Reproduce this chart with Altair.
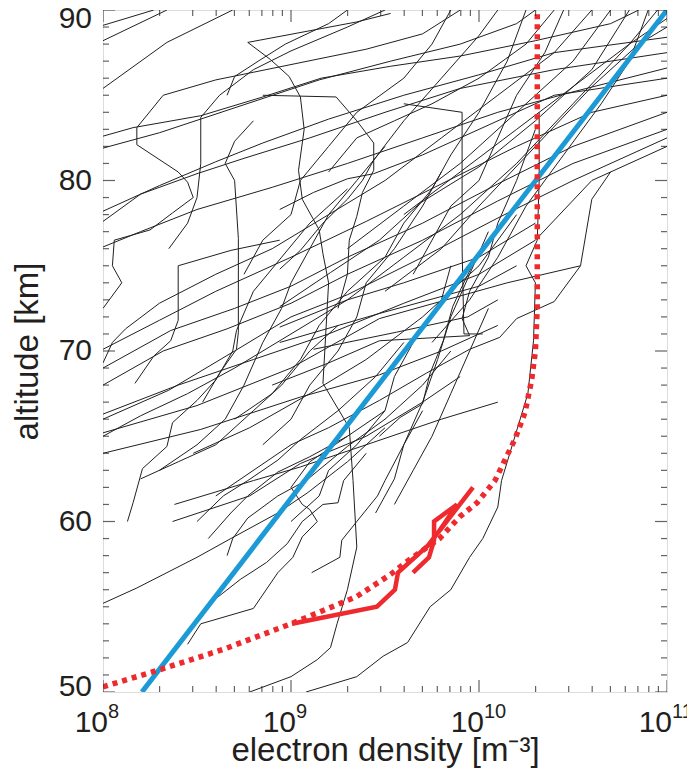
import altair as alt
import pandas as pd

# ---------------- data (log10 electron density [m^-3], altitude [km]) ----------------
p01 = [(8.0, 89.1), (8.27, 90.0)]
p02 = [(8.0, 88.2), (8.34, 90.0)]
p03 = [(8.0, 85.4), (8.34, 88.1), (8.69, 90.0)]
p04 = [(8.0, 82.6), (8.16, 83.1), (8.52, 83.8), (8.85, 84.9), (9.16, 86.0), (9.53, 86.7), (9.9, 87.3), (10.3, 88.2), (10.7, 89.2), (10.85, 90.0)]
p05 = [(8.0, 81.9), (8.3, 82.8), (8.82, 84.7), (9.15, 85.9), (9.53, 87.0), (9.9, 88.0), (10.2, 89.2), (10.3, 90.0)]
p06 = [(8.0, 72.5), (8.1, 74.0), (8.05, 75.0), (8.06, 76.5), (8.25, 77.1), (8.37, 78.1), (8.48, 79.0), (8.45, 79.9), (8.4, 80.5), (8.18, 82.1), (8.18, 83.1), (8.32, 85.0), (8.6, 85.9), (9.0, 86.8), (9.4, 87.7), (9.7, 88.6), (9.9, 90.0)]
p07 = [(9.53, 89.8), (9.35, 89.3), (8.77, 88.1), (8.89, 87.1), (8.99, 86.1), (9.05, 84.9), (9.07, 83.0), (9.04, 80.6), (9.06, 78.9), (9.15, 77.1), (9.17, 75.7), (9.2, 74.0), (9.17, 68.1), (9.31, 65.5), (9.33, 62.4), (9.35, 58.5), (9.30, 56.0), (9.245, 54.0), (9.21, 52.6), (9.14, 51.9), (9.0, 50.9), (8.78, 50.0)]
p08 = [(8.85, 85.0), (9.24, 84.9), (9.35, 83.5), (9.44, 82.2), (9.44, 80.6), (9.38, 79.3), (9.35, 77.9), (9.31, 76.5), (9.3, 74.5), (9.25, 72.5)]
p09 = [(8.0, 78.2), (8.3, 79.7), (8.6, 81.1), (8.85, 82.2), (9.2, 83.6), (9.6, 85.0), (10.0, 86.2), (10.4, 87.5), (11.0, 88.4)]
p10 = [(8.0, 77.6), (8.2, 79.2), (8.5, 80.4), (8.75, 81.3), (9.1, 82.5), (9.5, 84.0), (9.9, 85.4), (10.4, 86.5), (11.0, 87.5)]
p11 = [(8.0, 76.1), (8.2, 77.0), (8.5, 78.3), (8.9, 79.6), (9.3, 81.0), (9.7, 82.5), (10.1, 84.0), (10.5, 85.2), (11.0, 86.6)]
p12 = [(8.0, 70.1), (8.3, 71.8), (8.6, 73.5), (9.0, 75.5), (9.4, 77.6), (9.8, 79.8), (10.2, 82.0), (10.6, 84.0), (11.0, 85.0)]
p13 = [(8.0, 69.3), (8.05, 70.5), (8.12, 71.3), (8.3, 72.8), (8.6, 74.5), (8.9, 76.0), (9.2, 78.0), (9.5, 80.0), (9.8, 82.5), (10.1, 85.0), (10.4, 87.5), (10.6, 90.0)]
p14 = [(8.0, 69.0), (8.36, 71.2), (8.7, 72.5), (9.0, 73.8), (9.3, 75.5), (9.7, 77.5), (10.1, 79.8), (10.5, 82.0), (11.0, 84.0)]
p15 = [(8.0, 68.0), (8.32, 70.0), (8.66, 71.3), (9.0, 72.8), (9.3, 74.5), (9.7, 76.5), (10.1, 78.8), (10.5, 81.0), (11.0, 83.0)]
p16 = [(8.0, 66.3), (8.4, 68.0), (8.8, 69.5), (9.2, 71.0), (9.6, 72.8), (10.0, 74.5), (10.3, 76.5), (10.6, 80.0), (11.0, 82.0)]
p17 = [(8.0, 66.0), (8.35, 67.7), (8.7, 70.0), (9.0, 72.0), (9.3, 73.3), (9.7, 75.5), (10.1, 77.8), (10.5, 80.0), (11.0, 82.5)]
p18 = [(8.0, 65.2), (8.5, 66.8), (9.0, 69.0), (9.47, 71.9), (10.15, 74.0), (10.54, 75.0), (10.6, 78.9), (10.7, 80.5)]
p19 = [(8.0, 65.0), (8.2, 66.2), (8.45, 67.5), (8.7, 69.0), (9.0, 71.0), (9.3, 73.0), (9.6, 75.5), (9.9, 78.0), (10.2, 81.0), (10.5, 84.5), (10.8, 88.0), (10.95, 90.0)]
p20 = [(8.0, 64.0), (8.52, 65.4), (9.05, 67.3), (9.47, 68.6), (9.8, 70.0), (10.1, 71.5)]
p21 = [(8.6, 61.5), (9.0, 64.5), (9.2, 65.5), (9.47, 67.1), (9.72, 68.7), (9.95, 70.1), (10.11, 70.8), (10.2, 71.9), (10.4, 72.9), (10.54, 75.0)]
p22 = [(8.9, 68.0), (9.2, 69.3), (9.47, 70.6), (9.95, 70.9), (9.91, 71.9), (9.95, 73.5), (10.05, 75.5), (10.1, 77.5), (10.2, 80.0), (10.3, 83.0)]
p23 = [(9.6, 84.5), (9.91, 84.0), (9.91, 80.0), (9.91, 76.0), (9.92, 71.0), (10.02, 71.0)]
p24 = [(8.13, 60.0), (8.16, 61.1), (8.21, 63.1), (8.34, 64.4), (8.37, 65.8), (8.5, 67.1), (8.6, 68.3), (8.69, 70.0), (8.71, 71.2), (8.8, 73.5), (8.95, 75.5), (9.1, 77.5), (9.3, 79.5)]
p25 = [(8.38, 61.0), (8.8, 62.4), (9.05, 63.2), (9.4, 64.5), (9.8, 66.0), (10.1, 67.0)]
p26 = [(8.37, 60.0), (8.78, 61.5), (9.05, 63.4), (9.4, 65.0), (9.7, 67.0), (9.9, 68.5)]
p27 = [(8.5, 60.0), (8.64, 61.5), (8.77, 62.4), (8.93, 63.6), (9.05, 64.8), (9.25, 66.5), (9.45, 68.5), (9.6, 70.5)]
p28 = [(8.56, 59.0), (8.68, 60.5), (8.77, 61.5), (8.93, 62.9), (9.1, 63.8), (9.3, 65.0), (9.5, 66.5)]
p29 = [(8.66, 58.0), (8.69, 59.0), (8.77, 60.2), (8.93, 61.5), (9.08, 62.4), (9.3, 64.4), (9.5, 66.0), (9.7, 68.0), (9.85, 70.0)]
p30 = [(8.45, 52.8), (8.52, 54.0), (8.8, 54.9), (8.93, 57.0), (9.01, 57.9), (9.06, 59.1), (9.14, 60.0), (9.1, 60.7), (9.06, 61.0), (9.0, 62.0), (9.1, 63.5), (9.3, 65.0)]
p31 = [(8.58, 55.3), (8.73, 56.6), (8.87, 57.6), (8.98, 58.7), (9.06, 60.0), (9.17, 61.0), (9.25, 61.1), (9.28, 62.4), (9.4, 64.0)]
p32 = [(9.11, 57.0), (9.26, 57.9), (9.27, 58.9), (9.35, 60.0), (9.46, 61.5), (9.5, 62.4), (9.6, 64.5), (9.7, 66.5)]
p33 = [(9.08, 50.0), (9.35, 50.9), (9.49, 52.1), (9.62, 52.9), (9.74, 55.0), (9.85, 56.0), (9.95, 57.9), (10.02, 59.0), (10.1, 60.85), (10.12, 62.4), (10.26, 67.5), (10.29, 70.6), (10.30, 74.0), (10.25, 75.0), (10.31, 76.5), (10.32, 80.0), (10.32, 84.0)]
p34 = [(8.0, 55.2), (8.18, 56.1), (8.5, 57.9), (8.68, 59.0), (8.93, 60.5), (9.09, 61.7), (9.3, 63.5), (9.5, 65.5)]
p35 = [(8.17, 68.1), (8.27, 69.7), (8.36, 70.6), (8.4, 71.8), (8.4, 75.0), (8.68, 75.9), (8.94, 76.5)]
p36 = [(8.53, 67.0), (8.62, 68.7), (8.71, 70.1), (8.72, 71.1), (8.72, 76.6), (8.7, 80.0), (8.65, 81.0), (8.7, 82.3), (8.8, 83.5)]
p37 = [(8.35, 76.0), (8.45, 77.5), (8.5, 79.0), (8.52, 81.0), (8.52, 83.7), (8.62, 85.0), (8.8, 86.5), (9.0, 87.6), (9.3, 89.0), (9.5, 90.0)]
p38 = [(8.66, 85.0), (8.7, 86.1), (8.84, 87.1), (8.97, 88.0), (9.2, 89.2), (9.3, 90.0)]
p39 = [(9.3, 76.0), (9.6, 78.5), (9.9, 81.0), (10.2, 84.0), (10.5, 87.0), (10.7, 90.0)]
p40 = [(9.6, 78.0), (9.9, 80.5), (10.2, 83.0), (10.5, 85.5), (10.8, 88.0), (11.0, 89.5)]
p41 = [(9.5, 73.5), (9.8, 76.0), (10.0, 78.5), (10.3, 82.0), (10.6, 85.5), (10.85, 88.0), (11.0, 89.0)]
p42 = [(9.75, 70.5), (9.95, 73.0), (10.1, 75.5), (10.25, 78.5), (10.45, 81.5), (10.65, 84.5), (10.8, 87.0), (10.9, 90.0)]
p43 = [(9.45, 60.5), (9.55, 62.5), (9.6, 64.5), (9.7, 67.0), (9.78, 69.5), (9.85, 72.0), (9.95, 74.5), (10.05, 77.0)]
p44 = [(9.55, 61.0), (9.65, 63.0), (9.75, 65.0), (9.85, 67.5), (9.95, 70.0), (10.05, 72.5)]
p45 = [(9.47, 65.0), (9.58, 66.1), (9.7, 66.9), (9.74, 68.7), (9.81, 70.6), (9.86, 72.6), (9.91, 73.8), (10.0, 75.8), (10.06, 76.5)]
p46 = [(8.94, 78.3), (9.12, 79.3), (9.3, 80.1), (9.44, 80.4), (9.7, 81.5), (10.0, 83.0), (10.4, 85.0), (11.0, 86.0)]
p47 = [(8.94, 74.8), (9.05, 75.9), (9.17, 77.5), (9.3, 78.9), (9.38, 80.0), (9.44, 81.2), (9.6, 83.5), (9.8, 86.0), (10.0, 88.5), (10.1, 90.0)]
p48 = [(8.94, 72.6), (9.21, 74.6), (9.47, 76.5), (9.69, 78.7), (9.91, 80.2), (10.0, 80.8), (10.3, 83.5), (10.6, 86.5), (10.8, 90.0)]
p49 = [(8.48, 64.0), (8.78, 65.5), (9.1, 67.5), (9.4, 69.5), (9.7, 72.0), (10.0, 75.0), (10.2, 78.0)]
p50 = [(8.94, 71.4), (9.3, 73.0), (9.6, 74.0), (10.0, 75.5), (10.3, 77.5)]
p51 = [(8.94, 70.5), (9.47, 72.2), (10.0, 73.8), (10.2, 75.0)]
p52 = [(9.12, 70.1), (9.56, 71.1), (9.94, 72.0), (10.1, 73.0)]
p53 = [(8.7, 66.0), (8.9, 67.5), (9.05, 69.5), (9.15, 71.5), (9.3, 73.5), (9.5, 75.5), (9.6, 77.5), (9.75, 79.5), (9.85, 81.5), (10.0, 84.0), (10.15, 87.0), (10.25, 90.0)]
p54 = [(8.85, 64.5), (9.0, 66.0), (9.1, 68.0), (9.25, 70.0), (9.35, 72.0), (9.4, 74.0), (9.55, 76.0), (9.7, 78.5), (9.8, 80.5)]
p55 = [(9.0, 60.0), (9.15, 61.5), (9.2, 63.0), (9.35, 64.5), (9.5, 66.5), (9.55, 68.5), (9.65, 70.5), (9.8, 73.0), (9.85, 75.0)]
p56 = [(8.2, 62.5), (8.4, 63.5), (8.6, 64.5), (8.8, 66.5), (8.95, 68.0), (9.1, 70.0), (9.25, 71.5)]
p57 = [(8.3, 63.0), (8.5, 64.5), (8.65, 66.0), (8.75, 68.0), (8.85, 70.5), (8.95, 72.5), (9.0, 74.0), (9.1, 76.0), (9.2, 78.0), (9.35, 80.0), (9.5, 82.0)]
p58 = [(8.75, 74.5), (8.85, 76.5), (9.0, 78.0), (9.05, 80.0), (9.2, 82.0), (9.35, 84.0), (9.6, 86.0), (9.75, 88.0), (9.85, 90.0)]
p59 = [(9.2, 80.5), (9.35, 82.5), (9.55, 83.5), (9.75, 84.5), (10.0, 86.0), (10.25, 88.0), (10.4, 90.0)]
p60 = [(9.65, 74.5), (9.75, 76.5), (9.85, 78.5), (10.0, 80.0), (10.1, 82.5), (10.2, 85.0), (10.35, 87.5), (10.45, 90.0)]

black_profiles = [p01, p02, p03, p04, p05, p06, p07, p08, p09, p10, p11, p12, p13, p14, p15, p16, p17,
                  p18, p19, p20, p21, p22, p23, p24, p25, p26, p27, p28, p29, p30, p31, p32, p33, p34,
                  p35, p36, p37, p38, p39, p40, p41, p42, p43, p44, p45, p46, p47, p48, p49, p50, p51,
                  p52, p53, p54, p55, p56, p57, p58, p59, p60]

# red dotted model curve
model_logn = [8.0, 8.3, 8.64, 9.0, 9.35, 9.53, 9.61, 9.79, 9.90, 9.99, 10.085, 10.19, 10.245, 10.28, 10.30, 10.31, 10.31]
model_alt = [50.3, 51.3, 52.5, 54.0, 55.6, 56.9, 57.6, 59.0, 60.3, 61.1, 62.4, 64.8, 66.4, 68.3, 70.0, 72.6, 90.0]

# red solid measured profile (two legs)
red_leg1 = [(9.005, 54.0), (9.457, 55.0), (9.553, 56.0), (9.569, 57.0), (9.729, 58.6), (9.968, 62.0)]
red_leg2 = [(9.649, 57.0), (9.734, 57.9), (9.761, 58.9), (9.761, 60.0), (9.883, 61.0), (9.793, 59.5)]

# blue straight reference profile
blue_logn = [8.207, 11.0]
blue_alt = [50.0, 90.0]

# axis ticks and labels
x_major = [1e8, 1e9, 1e10, 1e11]
x_exp = ["8", "9", "10", "11"]
x_minor = [m * 10 ** d for d in (8, 9, 10) for m in range(2, 10)]
y_major = [50, 60, 70, 80, 90]
y_minor = [a for a in range(50, 91) if a % 10 != 0]
y_lab_mid = [60, 70, 80]
y_lab_top = [90]
y_lab_bottom = [50]

# ---------------- build tables ----------------
rows = []
for i, prof in enumerate(black_profiles):
    for j, (ln, a) in enumerate(prof):
        rows.append({"pid": i, "ord": j, "n": 10 ** ln, "alt": a})
black_df = pd.DataFrame(rows)

model_df = pd.DataFrame({"n": [10 ** v for v in model_logn], "alt": model_alt, "ord": range(len(model_alt))})
red_rows = []
for k, leg in enumerate([red_leg1, red_leg2]):
    for j, (ln, a) in enumerate(leg):
        red_rows.append({"leg": k, "ord": j, "n": 10 ** ln, "alt": a})
red_df = pd.DataFrame(red_rows)
blue_df = pd.DataFrame({"n": [10 ** v for v in blue_logn], "alt": blue_alt})

FONT = "Liberation Sans"
INK = "#231f20"
xs = alt.Scale(type="log", domain=[1e8, 1e11], nice=False)
ys = alt.Scale(domain=[50, 90], nice=False, zero=False)

x_enc = alt.X("n:Q", scale=xs,
              axis=alt.Axis(title="electron density [m\u207b\u00b3]", labels=False, ticks=False,
                            domain=False, grid=False, titleFontSize=33, titleFont=FONT,
                            titleFontWeight="normal", titlePadding=42, titleColor=INK))
y_enc = alt.Y("alt:Q", scale=ys,
              axis=alt.Axis(title="altitude [km]", labels=False, ticks=False, domain=False, grid=False,
                            titleFontSize=33, titleFont=FONT, titleFontWeight="normal",
                            titlePadding=59, titleColor=INK))

black = alt.Chart(black_df).mark_line(color=INK, strokeWidth=1.0, clip=True).encode(
    x=x_enc, y=y_enc, detail="pid:N", order="ord:Q")

blue = alt.Chart(blue_df).mark_line(color="#1b9ad6", strokeWidth=5, clip=True).encode(
    x=alt.X("n:Q", scale=xs), y=alt.Y("alt:Q", scale=ys))

model = alt.Chart(model_df).mark_line(color="#ee2a2e", strokeWidth=5.5, strokeDash=[5, 5], clip=True).encode(
    x=alt.X("n:Q", scale=xs), y=alt.Y("alt:Q", scale=ys), order="ord:Q")

red = alt.Chart(red_df).mark_line(color="#ee2a2e", strokeWidth=4.5, clip=True, strokeJoin="miter").encode(
    x=alt.X("n:Q", scale=xs), y=alt.Y("alt:Q", scale=ys), detail="leg:N", order="ord:Q")

xmaj_df = pd.DataFrame({"v": x_major, "e": x_exp})
xmin_df = pd.DataFrame({"v": x_minor})
ymaj_df = pd.DataFrame({"v": y_major})
ymin_df = pd.DataFrame({"v": y_minor})

tick_layers = []
for edge in (50, 90):
    tick_layers.append(alt.Chart(xmaj_df).mark_tick(orient="vertical", size=24, thickness=1.2, color=INK, clip=True)
                       .encode(x=alt.X("v:Q", scale=xs), y=alt.datum(edge, scale=ys)))
    tick_layers.append(alt.Chart(xmin_df).mark_tick(orient="vertical", size=12, thickness=1.2, color=INK, clip=True)
                       .encode(x=alt.X("v:Q", scale=xs), y=alt.datum(edge, scale=ys)))
for edge in (1e8, 1e11):
    tick_layers.append(alt.Chart(ymaj_df).mark_tick(orient="horizontal", size=24, thickness=1.2, color=INK, clip=True)
                       .encode(y=alt.Y("v:Q", scale=ys), x=alt.datum(edge, scale=xs)))
    tick_layers.append(alt.Chart(ymin_df).mark_tick(orient="horizontal", size=12, thickness=1.2, color=INK, clip=True)
                       .encode(y=alt.Y("v:Q", scale=ys), x=alt.datum(edge, scale=xs)))

base_lab = alt.Chart(xmaj_df).mark_text(text="10", align="right", baseline="alphabetic", dx=5, dy=40,
                                         fontSize=30, font=FONT, color=INK).encode(
    x=alt.X("v:Q", scale=xs), y=alt.datum(50, scale=ys))
exp_lab = alt.Chart(xmaj_df).mark_text(align="left", baseline="alphabetic", dx=5, dy=26,
                                        fontSize=20, font=FONT, color=INK).encode(
    x=alt.X("v:Q", scale=xs), y=alt.datum(50, scale=ys), text="e:N")

y_lab_layers = []
for vals, shift in ((y_lab_mid, 0), (y_lab_top, 9), (y_lab_bottom, -5)):
    y_lab_layers.append(
        alt.Chart(pd.DataFrame({"v": vals})).mark_text(align="right", baseline="middle", dx=-11, dy=shift,
                                                       fontSize=30, font=FONT, color=INK)
        .encode(y=alt.Y("v:Q", scale=ys), x=alt.datum(1e8, scale=xs), text="v:Q"))

chart = alt.layer(black, blue, model, red, *tick_layers, base_lab, exp_lab, *y_lab_layers).properties(
    width=564, height=682,
    autosize=alt.AutoSizeParams(type="none"),
    padding={"left": 95, "top": 2, "right": 20, "bottom": 77},
).configure_view(stroke=INK, strokeWidth=1.5).configure(background="white")

chart.save("out.html", embed_options={"renderer": "svg", "actions": False})
